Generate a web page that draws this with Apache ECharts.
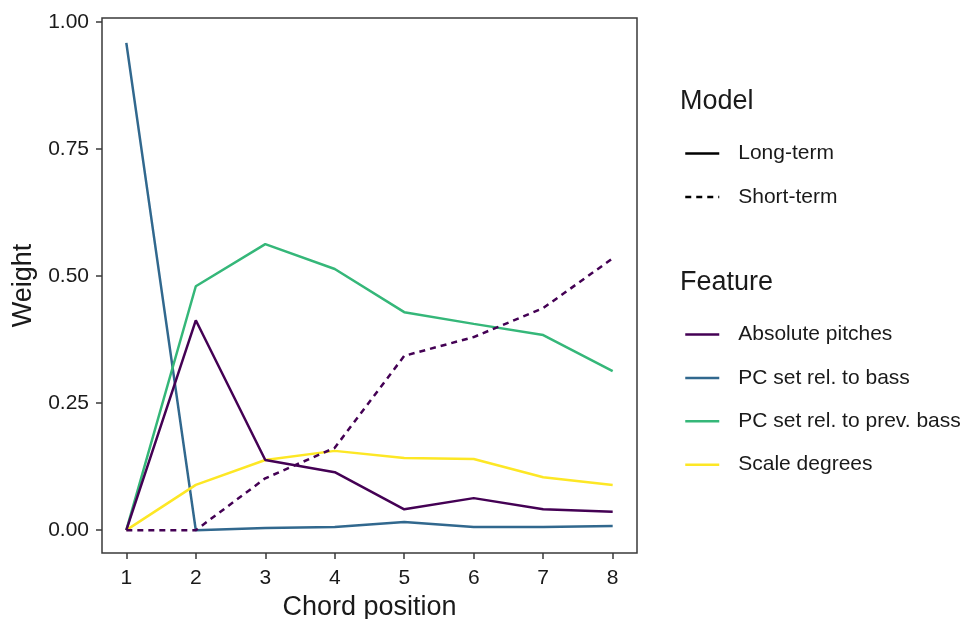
<html>
    <head>
        <meta charset="utf-8">
        <script src="https://cdn.jsdelivr.net/npm/echarts@6/dist/echarts.min.js"></script>
        <style>
            html, body { margin: 0; padding: 0; background: #fff; }
            #main { width: 967px; height: 619px; }
        </style>
    </head>
    <body>
        <div id="main"></div>
        <script>
            // chord positions on the x axis
            var chordPositions = [1, 2, 3, 4, 5, 6, 7, 8];
            var yTicks = [0, 0.25, 0.5, 0.75, 1];

            // weights
            var absolutePitchesLong = [0, 0.413, 0.138, 0.114, 0.041, 0.063, 0.041, 0.036];
            var pcSetBassLong = [0.959, 0, 0.004, 0.006, 0.016, 0.006, 0.006, 0.008];
            var pcSetPrevBassLong = [0, 0.480, 0.563, 0.514, 0.429, 0.406, 0.384, 0.313];
            var scaleDegreesLong = [0, 0.089, 0.138, 0.156, 0.142, 0.140, 0.104, 0.089];
            var absolutePitchesShort = [0, 0, 0.102, 0.162, 0.343, 0.380, 0.437, 0.535];

            var features = ['Absolute pitches', 'PC set rel. to bass', 'PC set rel. to prev. bass', 'Scale degrees'];
            var models = ['Long-term', 'Short-term'];
            var colors = ['#440154', '#31688E', '#35B779', '#FDE725'];

            var font = '"Liberation Sans", Arial, sans-serif';
            var ink = '#1a1a1a';

            function pairs(ys) {
                return chordPositions.map(function (x, i) { return [x, ys[i]]; });
            }

            function lineSeries(name, ys, color, dashed) {
                return {
                    name: name,
                    type: 'line',
                    data: pairs(ys),
                    symbol: 'none',
                    silent: true,
                    animation: false,
                    lineStyle: { color: color, width: 2.5, type: dashed ? [6, 5] : 'solid' },
                    itemStyle: { color: color }
                };
            }

            var chart = echarts.init(document.getElementById('main'));

            var legendText = {
                color: ink, fontFamily: font, fontSize: 21,
                padding: [0, 0, 0, 14]
            };
            var titleText = { color: ink, fontFamily: font, fontSize: 27, fontWeight: 'normal' };

            chart.setOption({
                animation: false,
                title: [
                    { text: 'Model', left: 680, top: 88, textStyle: titleText, padding: 0 },
                    { text: 'Feature', left: 680, top: 269, textStyle: titleText, padding: 0 }
                ],
                legend: [
                    {
                        data: models,
                        orient: 'vertical',
                        left: 684, top: 143, padding: 0,
                        itemWidth: 34, itemHeight: 20, itemGap: 22.4,
                        selectedMode: false,
                        itemStyle: { opacity: 0 },
                        lineStyle: { width: 2.5 },
                        textStyle: legendText
                    },
                    {
                        data: features,
                        orient: 'vertical',
                        left: 684, top: 324, padding: 0,
                        itemWidth: 34, itemHeight: 20, itemGap: 22.4,
                        selectedMode: false,
                        itemStyle: { opacity: 0 },
                        lineStyle: { width: 2.5 },
                        textStyle: legendText
                    }
                ],
                grid: {
                    left: 102, top: 18, right: 330, bottom: 66,
                    containLabel: false,
                    outerBoundsMode: 'none',
                    show: true, borderColor: '#3a3a3a', borderWidth: 1.5,
                    backgroundColor: '#fff'
                },
                xAxis: {
                    type: 'value',
                    min: 0.65, max: 8.35,
                    name: 'Chord position',
                    nameLocation: 'middle',
                    nameGap: 36,
                    nameTextStyle: { color: ink, fontFamily: font, fontSize: 27 },
                    axisLine: { show: false, onZero: false },
                    splitLine: { show: false },
                    axisTick: { show: true, length: 6, customValues: chordPositions, lineStyle: { color: '#3a3a3a', width: 1.5 } },
                    axisLabel: { customValues: chordPositions, margin: 15, color: ink, fontFamily: font, fontSize: 21 }
                },
                yAxis: {
                    type: 'value',
                    min: -0.045, max: 1.008,
                    name: 'Weight',
                    nameLocation: 'middle',
                    nameGap: 60,
                    nameTextStyle: { color: ink, fontFamily: font, fontSize: 27 },
                    axisLine: { show: false, onZero: false },
                    splitLine: { show: false },
                    axisTick: { show: true, length: 6, customValues: yTicks, lineStyle: { color: '#3a3a3a', width: 1.5 } },
                    axisLabel: {
                        customValues: yTicks, margin: 13, color: ink, fontFamily: font, fontSize: 21,
                        formatter: function (v) { return v.toFixed(2); }
                    }
                },
                series: [
                    lineSeries('Long-term', [], '#000', false),
                    lineSeries('Short-term', [], '#000', true),
                    lineSeries(features[1], pcSetBassLong, colors[1], false),
                    lineSeries(features[2], pcSetPrevBassLong, colors[2], false),
                    lineSeries(features[3], scaleDegreesLong, colors[3], false),
                    lineSeries(features[0], absolutePitchesLong, colors[0], false),
                    lineSeries('Absolute pitches (short-term)', absolutePitchesShort, colors[0], true)
                ]
            });
        </script>
    </body>
</html>
